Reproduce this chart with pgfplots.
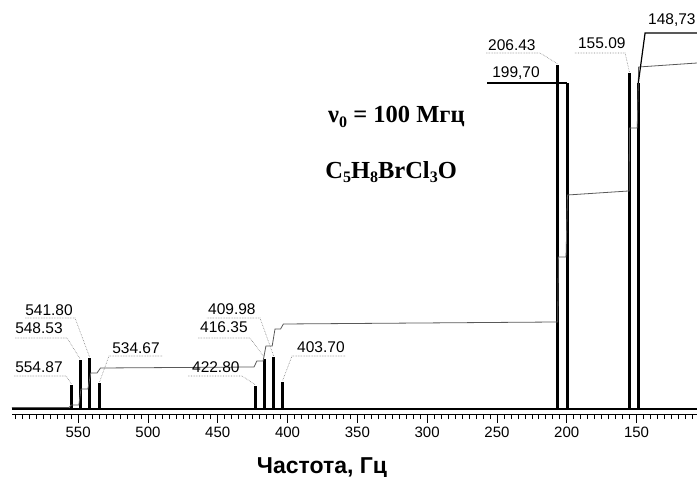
\documentclass[border=0pt]{standalone}
\usepackage{fontspec}
\setmainfont{Liberation Sans}
\newfontfamily\timesf{Liberation Serif}
\usepackage{pgfplots}
\pgfplotsset{compat=1.18}

\newcommand\lab{\fontsize{15.5}{15.5}\selectfont}
\newcommand\sub[1]{\raisebox{-0.4ex}{\fontsize{16}{16}\selectfont #1}}

\begin{document}
\begin{tikzpicture}[x=1pt,y=1pt,
  lead/.style={gray, densely dotted, line width=0.6pt},
  leadsolid/.style={black, line width=1.2pt}]
\begin{axis}[
  scale only axis, width=685pt, height=414pt,
  xmin=106.7, xmax=597.4, ymin=-5, ymax=409,
  x dir=reverse,
  axis x line*=bottom, hide y axis,
  axis line style={line width=0.7pt},
  xtick={150,200,...,550},
  minor xtick={110,115,...,595},
  tick align=outside,
  major tick length=9pt, minor tick length=5pt,
  tick style={black, line width=0.7pt},
  /pgf/number format/assume math mode=true,
  xticklabel style={font=\fontsize{15}{15}\selectfont, anchor=north, inner sep=0pt, yshift=-4pt},
  xlabel={\bfseries\fontsize{23}{23}\selectfont Частота, Гц},
  x label style={at={(axis description cs:0.4526,0)}, anchor=base, yshift=-59pt},
  clip=false,
]
% lower left corner of the plot area, used for the page frame
\coordinate (bl) at (axis cs:597.4,-5);

% spectrum baseline
\addplot[black, line width=2pt, mark=none] coordinates {(597.4,0) (106.7,0)};

% signals: two quartets and two doublets
\addplot[ycomb, black, line width=2.8pt, mark=none] coordinates {
  (554.87,24) (548.53,49) (541.80,51) (534.67,26)
  (422.80,23) (416.35,50) (409.98,52) (403.70,27)
  (206.43,344) (199.70,326) (155.09,336) (148.73,326)
};

% integral curve
\addplot[black!65, line width=0.8pt, mark=none] coordinates {
  (597.4,1.5) (556.5,1.5) (555,4) (549.5,4) (548,20) (543,20) (541,36)
  (536.5,36) (534,41) (424,42) (422,48) (417.5,48) (415.5,63)
  (411,63) (409,80) (405,80) (403,85) (208,87) (206.5,87) (206,152)
  (200.5,152) (199.5,214) (155.8,218) (155.3,218) (155,281)
  (149.5,281) (148.5,342) (106.7,346)
};

% peak labels with leaders
\node[anchor=west, inner sep=0pt, font=\lab] at (axis cs:595.2,42) {554.87};
\draw[lead] (axis cs:595.9,33) -- (axis cs:558.6,33) -- (axis cs:554.87,25);
\node[anchor=west, inner sep=0pt, font=\lab] at (axis cs:595.2,81) {548.53};
\draw[lead] (axis cs:595.2,71) -- (axis cs:557.9,71) -- (axis cs:548.53,50);
\node[anchor=west, inner sep=0pt, font=\lab] at (axis cs:588.0,99) {541.80};
\draw[lead] (axis cs:588.0,91) -- (axis cs:552.2,91) -- (axis cs:541.80,52);
\node[anchor=west, inner sep=0pt, font=\lab] at (axis cs:525.7,61) {534.67};
\draw[lead] (axis cs:489.9,53) -- (axis cs:527.9,53) -- (axis cs:534.67,27);

\node[anchor=west, inner sep=0pt, font=\lab] at (axis cs:468.5,42) {422.80};
\draw[lead] (axis cs:471.3,33) -- (axis cs:432.6,33) -- (axis cs:422.80,24);
\node[anchor=west, inner sep=0pt, font=\lab] at (axis cs:462.7,82) {416.35};
\draw[lead] (axis cs:464.1,71) -- (axis cs:426.9,71) -- (axis cs:416.35,51);
\node[anchor=west, inner sep=0pt, font=\lab] at (axis cs:457.0,100) {409.98};
\draw[lead] (axis cs:457.8,91) -- (axis cs:419.7,91) -- (axis cs:409.98,53);
\node[anchor=west, inner sep=0pt, font=\lab] at (axis cs:393.2,62) {403.70};
\draw[lead] (axis cs:358.8,53) -- (axis cs:396.8,53) -- (axis cs:403.70,28);

\node[anchor=west, inner sep=0pt, font=\lab] at (axis cs:256.4,364) {206.43};
\draw[lead] (axis cs:257.8,356) -- (axis cs:219.1,356) -- (axis cs:206.43,345);
\node[anchor=west, inner sep=0pt, font=\lab] at (axis cs:253.5,336) {199,70};
\draw[leadsolid] (axis cs:257.1,326) -- (axis cs:199.70,326);
\node[anchor=west, inner sep=0pt, font=\lab] at (axis cs:192.0,366) {155.09};
\draw[lead] (axis cs:194.1,356) -- (axis cs:158.2,356) -- (axis cs:155.09,337);
\node[anchor=west, inner sep=0pt, font=\lab] at (axis cs:141.8,389) {148,73};
\draw[leadsolid] (axis cs:106.7,376) -- (axis cs:143.9,376) -- (axis cs:148.73,326);

% spectrometer frequency and formula
\node[anchor=west, inner sep=0pt, font=\timesf\bfseries\fontsize{24.5}{24.5}\selectfont]
  at (axis cs:371,292) {ν\sub{0} = 100 Мгц};
\node[anchor=west, inner sep=0pt, font=\timesf\bfseries\fontsize{24.5}{24.5}\selectfont]
  at (axis cs:373.1,237) {C\sub{5}H\sub{8}BrCl\sub{3}O};
\end{axis}
\pgfresetboundingbox
\path (bl) ++(-12pt,-63pt) rectangle ++(697pt,477pt);
\end{tikzpicture}
\end{document}
